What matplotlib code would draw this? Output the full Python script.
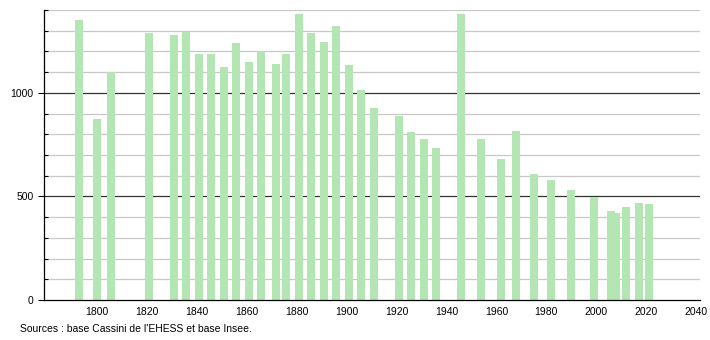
import matplotlib.pyplot as plt
from matplotlib.ticker import MultipleLocator

years = [1793, 1800, 1806, 1821, 1831, 1836, 1841, 1846, 1851, 1856,
         1861, 1866, 1872, 1876, 1881, 1886, 1891, 1896, 1901, 1906,
         1911, 1921, 1926, 1931, 1936, 1946, 1954, 1962, 1968, 1975,
         1982, 1990, 1999, 2006, 2008, 2012, 2017, 2021]
population = [1350, 875, 1100, 1287, 1277, 1296, 1188, 1188, 1126, 1241,
              1150, 1200, 1140, 1188, 1380, 1291, 1246, 1324, 1135, 1014,
              929, 887, 811, 777, 736, 1380, 777, 681, 816, 609,
              580, 531, 498, 430, 420, 450, 469, 465]
x_ticks = list(range(1800, 2041, 20))
y_ticks = [0, 500, 1000]
source = "Sources : base Cassini de l'EHESS et base Insee."

plt.rcParams['font.family'] = ['Liberation Sans', 'DejaVu Sans']

fig = plt.figure(figsize=(7.1, 3.4), dpi=100)
ax = fig.add_axes([0.062, 0.1176, 0.924, 0.853])

# light grid every 100, dark lines at 500 / 1000
for v in range(100, 1401, 100):
    if v % 500 == 0:
        ax.axhline(v, color='#333333', lw=0.9, zorder=1)
    else:
        ax.axhline(v, color='#c8c8c8', lw=0.9, zorder=1)

ax.bar(years, population, width=3.2, color='#b3e6b3', zorder=2)

ax.set_xlim(1779, 2041.5)
ax.set_ylim(0, 1400)
ax.set_xticks(x_ticks)
ax.set_yticks(y_ticks)
ax.yaxis.set_minor_locator(MultipleLocator(100))
ax.tick_params(axis='x', length=0, labelsize=7.5, pad=5)
ax.tick_params(axis='y', which='major', length=4, labelsize=7.5, width=0.8)
ax.tick_params(axis='y', which='minor', length=3, direction='in', width=0.8)

for side in ['top', 'right']:
    ax.spines[side].set_visible(False)
ax.spines['left'].set_linewidth(0.9)
ax.spines['bottom'].set_linewidth(0.9)

fig.text(20 / 710, 1 - 329 / 340, source, fontsize=7.5, va='center', ha='left')

fig.savefig('out.png', dpi=100)
